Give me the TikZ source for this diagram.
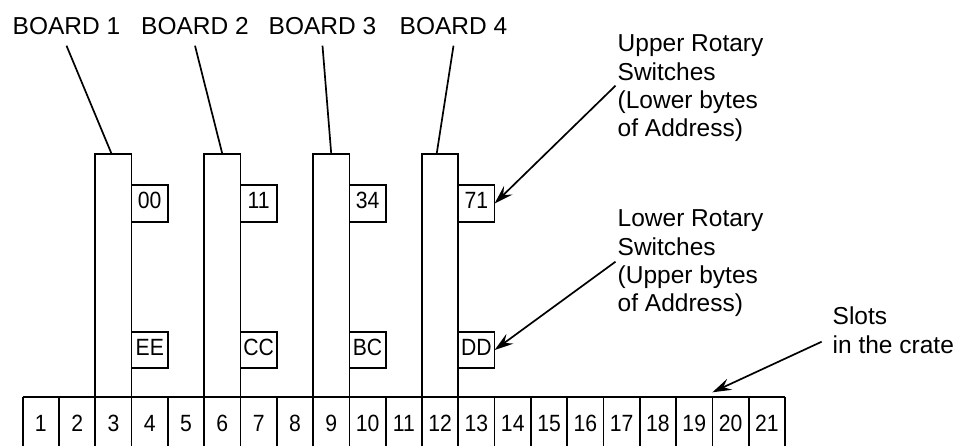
\documentclass[tikz,border=0pt]{standalone}
\usepackage{fontspec}
\setmainfont{Liberation Sans}
\newfontfamily\condfont{Liberation Sans}[FakeStretch=0.9]
\usetikzlibrary{arrows.meta}
\begin{document}
\begin{tikzpicture}[x=1pt,y=-1pt, line width=1.7pt,
 every node/.style={inner sep=0pt, outer sep=0pt},
 slotbox/.style={minimum width=36.3pt, minimum height=48.7pt, text height=20pt, text depth=0pt, font=\condfont\fontsize{23.5}{27}\selectfont},
 boardbox/.style={draw, fill=white, minimum width=36.3pt, minimum height=243.3pt},
 swbox/.style={draw, fill=white, minimum width=36.3pt, minimum height=36.6pt, text depth=6pt, font=\condfont\fontsize{23.5}{27}\selectfont},
 title/.style={font=\fontsize{24.5}{28.3}\selectfont, inner ysep=10.7pt, text depth=0pt},
 note/.style={font=\fontsize{24.5}{28.3}\selectfont, align=left, anchor=north west},
 pointer/.style={-{Stealth[length=19pt,width=12pt,inset=7pt]}},
]
\useasboundingbox (0,0) rectangle (962,446);

% slots
\foreach \i in {1,...,21}
  \node[slotbox] (s\i) at ({22.7+(\i-0.5)*36.3}, 421.65) {\i};
\draw (s1.north west) -- (s21.north east);
\foreach \i in {1,...,21}
  \draw (s\i.south west) -- (s\i.north west);
\draw (s21.south east) -- (s21.north east);

% boards
\node[boardbox, anchor=south] (b1) at (s3.north) {};
\node[boardbox, anchor=south] (b2) at (s6.north) {};
\node[boardbox, anchor=south] (b3) at (s9.north) {};
\node[boardbox, anchor=south] (b4) at (s12.north) {};

% rotary switches
\node[swbox, anchor=west] (u1) at (b1.east |- 0,203.5) {00};
\node[swbox, anchor=west] (u2) at (b2.east |- 0,203.5) {11};
\node[swbox, anchor=west] (u3) at (b3.east |- 0,203.5) {34};
\node[swbox, anchor=west] (u4) at (b4.east |- 0,203.5) {71};
\node[swbox, anchor=west] (l1) at (b1.east |- 0,350) {EE};
\node[swbox, anchor=west] (l2) at (b2.east |- 0,350) {CC};
\node[swbox, anchor=west] (l3) at (b3.east |- 0,350) {BC};
\node[swbox, anchor=west] (l4) at (b4.east |- 0,350) {DD};

% board titles
\node[title, anchor=base] (t1) at (66.5,35) {BOARD 1};
\node[title, anchor=base] (t2) at (195,35) {BOARD 2};
\node[title, anchor=base] (t3) at (322.5,35) {BOARD 3};
\node[title, anchor=base] (t4) at (453.5,35) {BOARD 4};
\draw (t1.south) -- ([xshift=-1.8pt]b1.north);
\draw (t2.south) -- (b2.north);
\draw (t3.south) -- (b3.north);
\draw (t4.south) -- ([xshift=-3.5pt]b4.north);

% notes
\node[note] (nu) at (617.7,35) {Upper Rotary\\Switches\\(Lower bytes\\of Address)};
\node[note] (nl) at (617.7,210) {Lower Rotary\\Switches\\(Upper bytes\\of Address)};
\node[note] (ns) at (832.7,307) {Slots\\in the crate};

\coordinate (ua) at (615.5,85.7);
\coordinate (la) at (615.5,261.7);
\coordinate (sa) at (821.7,341.7);
\coordinate (st) at ([yshift=5pt]s19.north east);
\draw[pointer] (ua) -- (u4.east);
\draw[pointer] (la) -- (l4.east);
\draw[pointer] (sa) -- (st);
\end{tikzpicture}
\end{document}
